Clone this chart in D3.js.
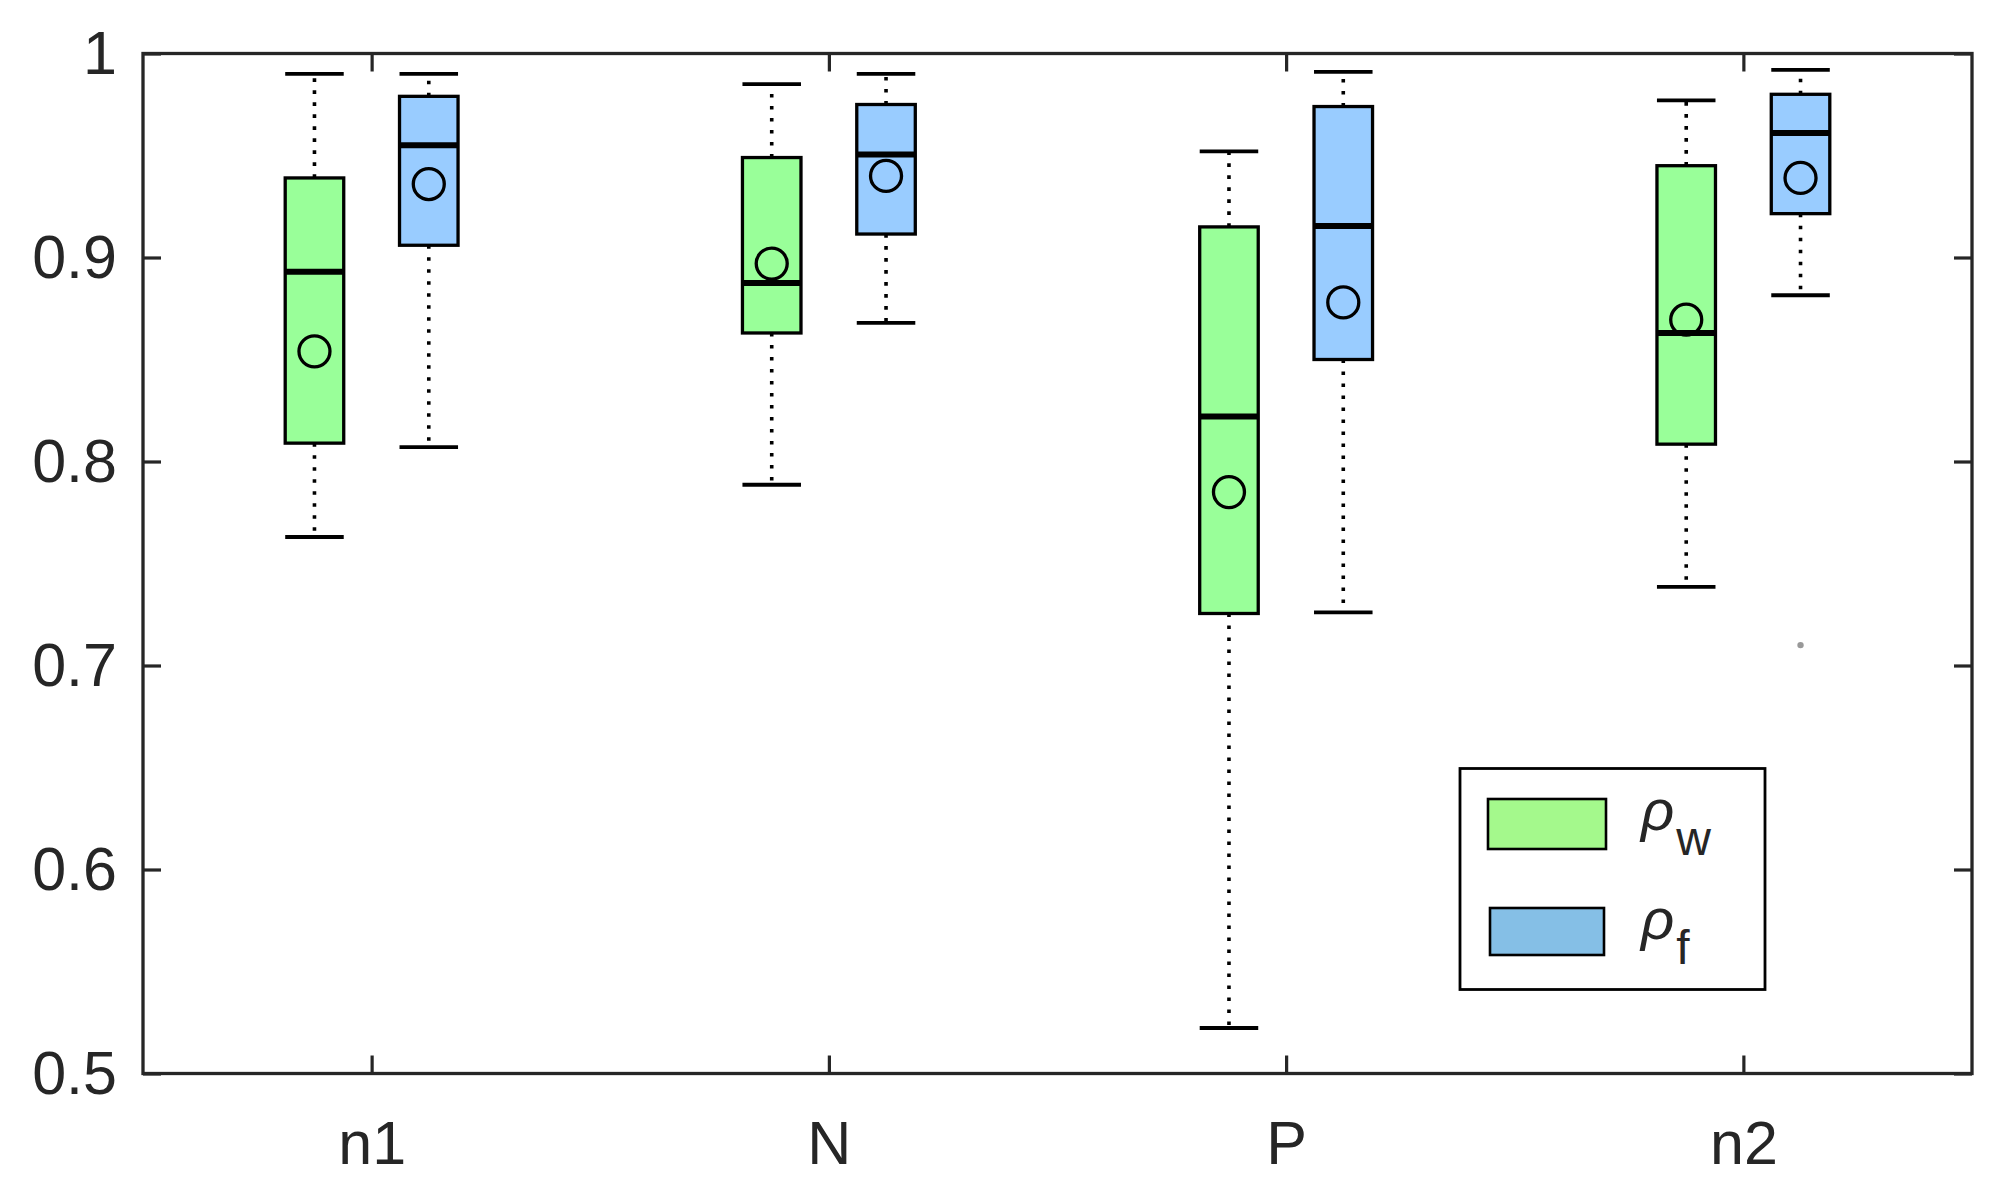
<!DOCTYPE html>
<html>
<head>
<meta charset="utf-8">
<script src="https://cdn.jsdelivr.net/npm/d3@7"></script>
<style>
  html, body { margin: 0; padding: 0; background: #fff; }
  svg { display: block; }
  text { font-family: "Liberation Sans", Arial, Helvetica, sans-serif; fill: #262626; }
</style>
</head>
<body>
<svg id="chart" width="2004" height="1193"></svg>
<script>
// ---- data ----
const categories = ["n1", "N", "P", "n2"];
const yTickValues = [0.5, 0.6, 0.7, 0.8, 0.9, 1.0];
const yTickLabels = ["0.5", "0.6", "0.7", "0.8", "0.9", "1"];

// rho_w (green)
const wUpper  = [0.990, 0.985, 0.952, 0.977];
const wQ3     = [0.939, 0.949, 0.915, 0.945];
const wMedian = [0.893, 0.8875, 0.822, 0.863];
const wQ1     = [0.809, 0.863, 0.7255, 0.8085];
const wLower  = [0.763, 0.7886, 0.5223, 0.7385];
const wMean   = [0.854, 0.897, 0.785, 0.8695];
const wOutliers = [[], [], [], []];

// rho_f (blue)
const fUpper  = [0.990, 0.990, 0.991, 0.992];
const fQ3     = [0.979, 0.975, 0.974, 0.980];
const fMedian = [0.955, 0.9505, 0.9155, 0.961];
const fQ1     = [0.906, 0.9115, 0.850, 0.9215];
const fLower  = [0.807, 0.868, 0.726, 0.8815];
const fMean   = [0.936, 0.940, 0.878, 0.939];
const fOutliers = [[], [], [], [0.71]];

const seriesNames = ["\u03C1", "\u03C1"];
const seriesSubs = ["w", "f"];

// ---- layout ----
const svg = d3.select("#chart");
const L = 143, R = 1972, T = 53.5, B = 1073.5;
const ink = "#262626";

const x = d3.scaleLinear().domain([0.5, 4.5]).range([L, R]);
const y = d3.scaleLinear().domain([0.5, 1.0]).range([B, T]);

const offset = 0.125, boxW = 0.128;

const series = [
  { upper: wUpper, q3: wQ3, med: wMedian, q1: wQ1, lower: wLower, mean: wMean, out: wOutliers, off: -offset, fill: "#99ff99", legendFill: "#a4f98c" },
  { upper: fUpper, q3: fQ3, med: fMedian, q1: fQ1, lower: fLower, mean: fMean, out: fOutliers, off: offset, fill: "#99ccff", legendFill: "#85bfe6" }
];

// axes (box with mirrored ticks)
const tickLen = 18;
const gL = svg.append("g").attr("transform", `translate(${L},0)`)
  .call(d3.axisLeft(y).tickValues(yTickValues).tickFormat((d, i) => yTickLabels[i])
    .tickSizeInner(-tickLen).tickSizeOuter(0).tickPadding(26));
const gR = svg.append("g").attr("transform", `translate(${R},0)`)
  .call(d3.axisRight(y).tickValues(yTickValues).tickFormat("")
    .tickSizeInner(-tickLen).tickSizeOuter(0));
const gB = svg.append("g").attr("transform", `translate(0,${B})`)
  .call(d3.axisBottom(x).tickValues([1, 2, 3, 4]).tickFormat((d) => categories[d - 1])
    .tickSizeInner(-tickLen).tickSizeOuter(0).tickPadding(47));
const gT = svg.append("g").attr("transform", `translate(0,${T})`)
  .call(d3.axisTop(x).tickValues([1, 2, 3, 4]).tickFormat("")
    .tickSizeInner(-tickLen).tickSizeOuter(0));

[gL, gR, gB, gT].forEach(g => {
  g.select(".domain").remove();
  g.selectAll(".tick line").attr("stroke", ink).attr("stroke-width", 3.2);
  g.selectAll(".tick text").attr("font-size", 61).attr("fill", ink)
    .style("font-family", '"Liberation Sans", Arial, sans-serif');
});
// frame
svg.append("rect").attr("x", L).attr("y", T).attr("width", R - L).attr("height", B - T)
  .attr("fill", "none").attr("stroke", ink).attr("stroke-width", 3.3);

// ---- boxes ----
const plot = svg.append("g");
series.forEach(s => {
  categories.forEach((c, i) => {
    const cx = x(i + 1 + s.off);
    const x0 = x(i + 1 + s.off - boxW / 2), x1 = x(i + 1 + s.off + boxW / 2);
    const g = plot.append("g");
    // whiskers (dotted)
    g.append("line").attr("x1", cx).attr("x2", cx).attr("y1", y(s.q3[i])).attr("y2", y(s.upper[i]))
      .attr("stroke", "#000").attr("stroke-width", 3.6).attr("stroke-dasharray", "3.6,8.4");
    g.append("line").attr("x1", cx).attr("x2", cx).attr("y1", y(s.q1[i])).attr("y2", y(s.lower[i]))
      .attr("stroke", "#000").attr("stroke-width", 3.6).attr("stroke-dasharray", "3.6,8.4");
    // caps
    [s.upper[i], s.lower[i]].forEach(v => {
      g.append("line").attr("x1", x0).attr("x2", x1).attr("y1", y(v)).attr("y2", y(v))
        .attr("stroke", "#000").attr("stroke-width", 3.8);
    });
    // box
    g.append("rect").attr("x", x0).attr("y", y(s.q3[i])).attr("width", x1 - x0)
      .attr("height", y(s.q1[i]) - y(s.q3[i]))
      .attr("fill", s.fill).attr("stroke", "#000").attr("stroke-width", 3.3);
    // median
    g.append("line").attr("x1", x0).attr("x2", x1).attr("y1", y(s.med[i])).attr("y2", y(s.med[i]))
      .attr("stroke", "#000").attr("stroke-width", 6);
    // mean
    g.append("circle").attr("cx", cx).attr("cy", y(s.mean[i])).attr("r", 15.5)
      .attr("fill", "none").attr("stroke", "#000").attr("stroke-width", 3.3);
    // outliers
    s.out[i].forEach(v => {
      g.append("circle").attr("cx", cx).attr("cy", y(v)).attr("r", 3.2)
        .attr("fill", "#999").attr("stroke", "none");
    });
  });
});

// ---- legend ----
const leg = svg.append("g");
leg.append("rect").attr("x", 1460).attr("y", 768.5).attr("width", 305).attr("height", 221)
  .attr("fill", "#fff").attr("stroke", "#000").attr("stroke-width", 2.8);
const legRows = [{ sy: 799, sx: 1488, w: 118, h: 50 }, { sy: 908, sx: 1490, w: 114, h: 47 }];
series.forEach((s, k) => {
  const r = legRows[k];
  leg.append("rect").attr("x", r.sx).attr("y", r.sy).attr("width", r.w).attr("height", r.h)
    .attr("fill", s.legendFill).attr("stroke", "#000").attr("stroke-width", 2.6);
  const t = leg.append("text").attr("x", 1641).attr("y", r.sy + 31).attr("font-size", 58).attr("fill", "#000");
  t.append("tspan").attr("font-style", "italic").text(seriesNames[k]);
  t.append("tspan").attr("dx", 2).attr("dy", 25).attr("font-size", 48).text(seriesSubs[k]);
});
</script>
</body>
</html>
